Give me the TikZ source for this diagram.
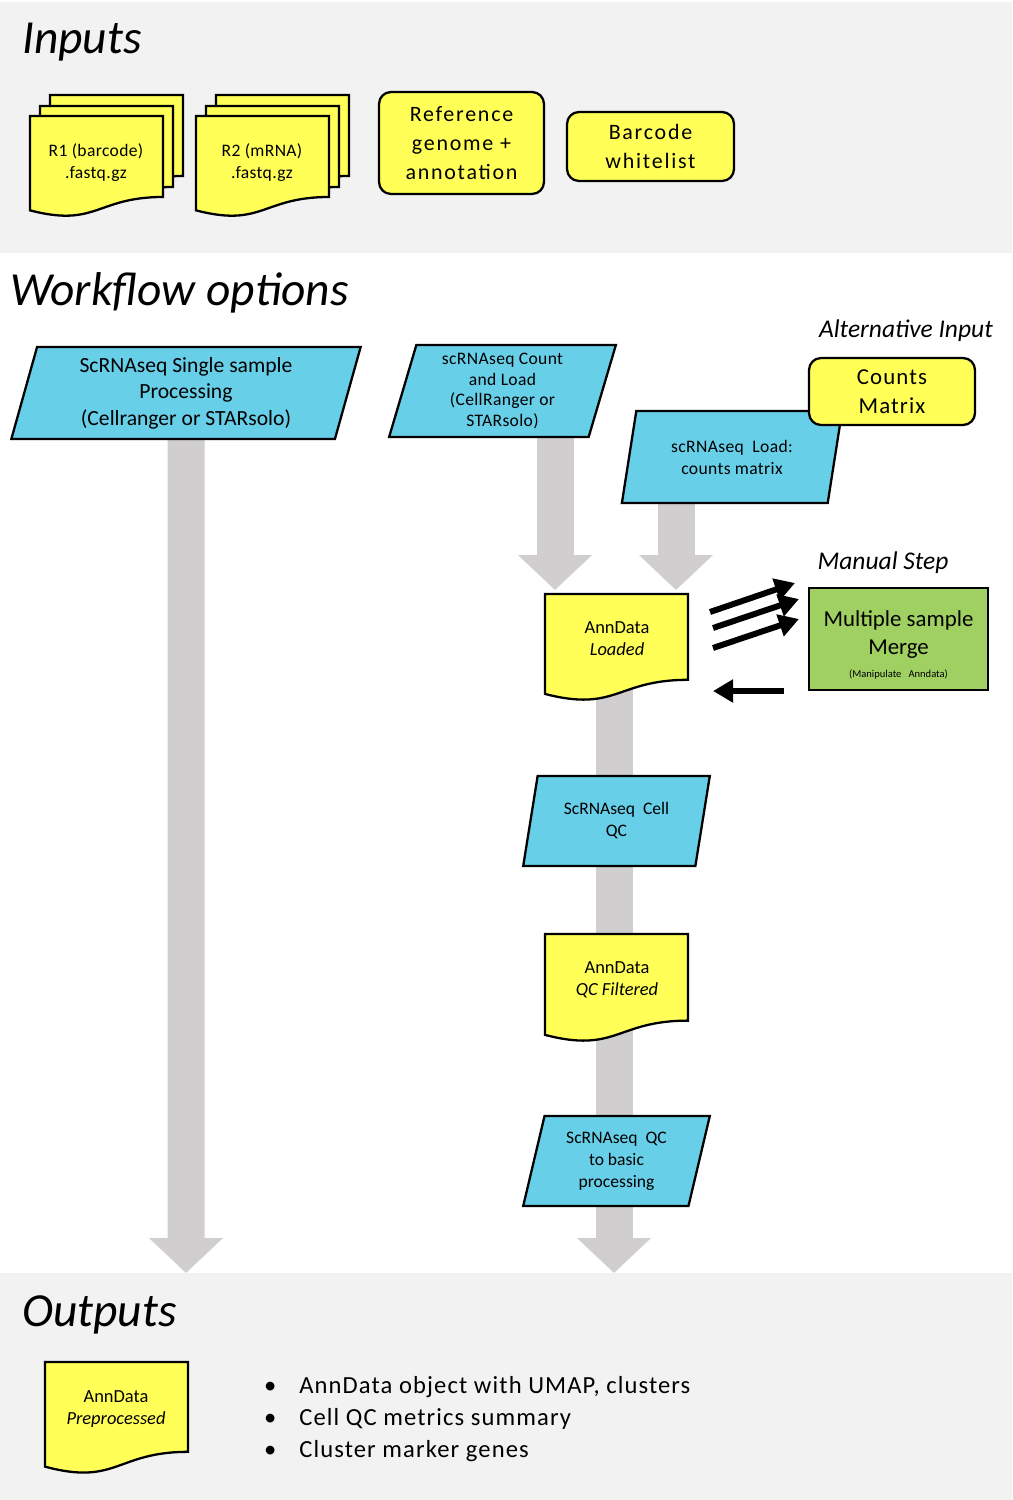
\documentclass[tikz,border=0pt]{standalone}
\usepackage{fontspec}
\setmainfont{Carlito}
\usetikzlibrary{arrows.meta,calc,positioning,shapes.geometric}
\definecolor{panelgray}{RGB}{242,242,242}
\definecolor{flowgray}{RGB}{208,206,206}
\definecolor{procblue}{RGB}{104,207,232}
\definecolor{fileyellow}{RGB}{255,255,88}
\definecolor{mergegreen}{RGB}{160,208,98}
\pgfdeclarelayer{bg}
\pgfsetlayers{bg,main}
\tikzset{
  panel/.style={fill=panelgray},
  title/.style={anchor=west,font=\fontsize{27}{31}\selectfont\itshape},
  note/.style={font=\fontsize{14.5}{17}\selectfont\itshape},
  proc/.style={trapezium,trapezium left angle=76,trapezium right angle=104,trapezium stretches=true,
    draw,line width=1.3pt,fill=procblue,align=center,inner sep=1pt,minimum height=1.84cm},
  file/.style={draw,rounded corners=0.24cm,fill=fileyellow,line width=1.3pt,align=center},
  sheet/.style={draw,fill=fileyellow,line width=1.3pt},
  sheettext/.style={align=center,font=\fontsize{10.5}{12.5}\selectfont},
  merge/.style={draw,fill=mergegreen,line width=1.6pt,align=center},
  flow/.style={draw=flowgray,line width=0.74cm,-{Triangle[length=0.7cm,width=1.44cm]}},
  push/.style={line width=0.12cm,-{Triangle[length=0.4cm,width=0.44cm]}}
}
% document sheet: top-left x, y, width, height
\newcommand{\docsheet}[4]{%
  \pgfmathsetmacro\dw{#3}\pgfmathsetmacro\dm{0.5*#3}%
  \pgfmathsetmacro\dr{0.802*#4}\pgfmathsetmacro\dl{0.934*#4}\pgfmathsetmacro\dc{1.107*#4}%
  \filldraw[sheet,shift={(#1,#2)}] (0,0) -- (\dw,0) -- (\dw,\dr)
    .. controls (\dm,\dr) and (\dm,\dc) .. (0,\dl) -- cycle;
}

\begin{document}
\begin{tikzpicture}[x=0.02cm,y=-0.02cm,>=Stealth]
  \useasboundingbox (0,0) rectangle (1012,1500);
  \begin{pgfonlayer}{bg}
    \fill[panel] (0,2) rectangle (1012,253);
    \fill[panel] (0,1273) rectangle (1012,1500);
  \end{pgfonlayer}

  % inputs
  \node[title] (intitle) at (16,42) {Inputs};
  \docsheet{50}{95}{133}{101}
  \docsheet{40}{106}{133}{101}
  \docsheet{30}{116}{133}{101}
  \node[sheettext,font=\fontsize{10}{12.5}\selectfont\addfontfeature{LetterSpace=2}] (r1) at (96,163)
    {R1 (barcode)\\.fastq.gz};
  \docsheet{216}{95}{133}{101}
  \docsheet{206}{106}{133}{101}
  \docsheet{196}{116}{133}{101}
  \node[sheettext,font=\fontsize{10}{12.5}\selectfont\addfontfeature{LetterSpace=2}] (r2) at (262,163)
    {R2 (mRNA)\\.fastq.gz};
  \node[file,minimum width=3.3cm,minimum height=2.04cm,
    font=\fontsize{12.5}{16.5}\selectfont\addfontfeature{LetterSpace=8}]
    (ref) at (461.5,143) {Reference\\genome +\\annotation};
  \node[file,minimum width=3.34cm,minimum height=1.38cm,
    font=\fontsize{12.5}{17}\selectfont\addfontfeature{LetterSpace=8}]
    (wl) at (650.5,146.5) {Barcode\\whitelist};

  % workflow options
  \node[title] (wftitle) at (4,293) {Workflow options};
  \node[proc,minimum width=7cm,font=\fontsize{12.3}{15}\selectfont] (single) at (186,393)
    {ScRNAseq Single sample\\Processing\\(Cellranger or STARsolo)};
  \node[proc,minimum width=4.54cm,font=\fontsize{10}{11.7}\selectfont\addfontfeature{LetterSpace=2}]
    (count) at (502.5,391) {scRNAseq Count\\and Load\\(CellRanger or\\STARsolo)};
  \node[note,anchor=east] (alt) at (999,331) {Alternative Input};
  \node[proc,minimum width=4.44cm,font=\fontsize{10}{12.5}\selectfont\addfontfeature{LetterSpace=2}]
    (load) at (732,457) {scRNAseq\ \ Load:\\counts matrix};
  \node[file,minimum width=3.32cm,minimum height=1.34cm,
    font=\fontsize{13}{16.5}\selectfont\addfontfeature{LetterSpace=5}]
    (counts) at (892,391.5) {Counts\\Matrix};

  \docsheet{545}{594}{143}{107}
  \node[sheettext] (loaded) at (617,639) {AnnData\\\textit{Loaded}};
  \node[note] (manual) at (883,563) {Manual Step};
  \node[merge,minimum width=3.58cm,minimum height=2.04cm,font=\fontsize{13}{16}\selectfont]
    (merge) at (898.5,639)
    {\rule{0pt}{16pt}Multiple sample\\Merge\\[-3pt]{\fontsize{6}{7}\selectfont(Manipulate\ \ \ Anndata)}};
  \node[proc,minimum width=3.74cm,minimum height=1.8cm,font=\fontsize{10}{12.5}\selectfont]
    (cellqc) at (616.5,821) {ScRNAseq\ \ Cell\\QC};
  \docsheet{545}{934}{143}{108}
  \node[sheettext] (filtered) at (617,980) {AnnData\\\textit{QC Filtered}};
  \node[proc,minimum width=3.74cm,minimum height=1.8cm,font=\fontsize{10}{12.5}\selectfont]
    (basic) at (616.5,1161) {ScRNAseq\ \ QC\\to basic\\processing};

  % outputs
  \node[title] (outtitle) at (16,1315) {Outputs};
  \docsheet{45}{1362}{143}{112}
  \node[sheettext] (prep) at (116,1409) {AnnData\\\textit{Preprocessed}};
  \node[anchor=west,align=left,font=\fontsize{14}{18}\selectfont\addfontfeature{LetterSpace=4.5}]
    (summary) at (258,1419)
    {\makebox[20pt][l]{\textbullet}AnnData object with UMAP,\ clusters\\
     \makebox[20pt][l]{\textbullet}Cell QC metrics summary\\
     \makebox[20pt][l]{\textbullet}Cluster marker genes};

  % connectors
  \coordinate (singleout) at (186,1273);
  \coordinate (countin) at (555,590);
  \coordinate (loadin) at (676,590);
  \coordinate (qcout) at (614,1273);
  \begin{pgfonlayer}{bg}
    \draw[flow] (single.south) -- (singleout);
    \draw[flow] (count.south -| countin) -- (countin);
    \draw[flow] (load.south -| loadin) -- (loadin);
    \draw[flow] (loaded.center -| qcout) -- (qcout);
  \end{pgfonlayer}
  \coordinate (ma) at (710,612);  \coordinate (mb) at (795,583);
  \coordinate (mc) at (713,628);  \coordinate (md) at (799,599);
  \coordinate (me) at (713,648);  \coordinate (mf) at (799,619);
  \coordinate (mg) at (784,691);  \coordinate (mh) at (713,691);
  \draw[push] (ma) -- (mb);
  \draw[push] (mc) -- (md);
  \draw[push] (me) -- (mf);
  \draw[push] (mg) -- (mh);
\end{tikzpicture}
\end{document}
